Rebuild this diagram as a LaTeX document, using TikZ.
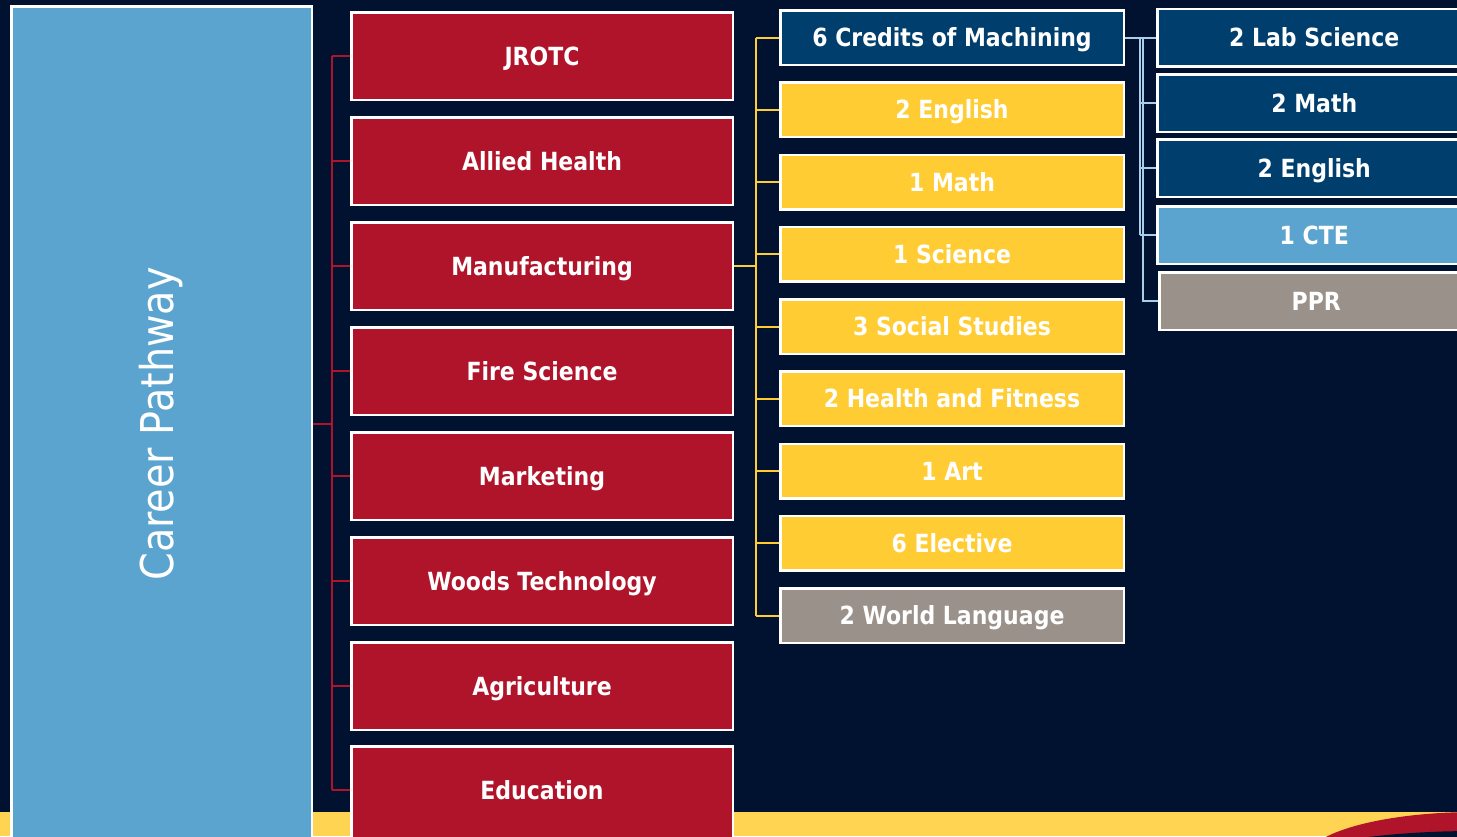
\documentclass[tikz,border=0pt]{standalone}
\usepackage{fontspec}
\usepackage{graphicx}
\newfontfamily\tah{DejaVu Sans}[FakeStretch=0.88]
\usetikzlibrary{backgrounds}
\definecolor{bg}{HTML}{00122F}
\definecolor{cpblue}{HTML}{5BA4D0}
\definecolor{cred}{HTML}{B0142A}
\definecolor{cyellow}{HTML}{FFCD33}
\definecolor{strip}{HTML}{FFD452}
\definecolor{dblue}{HTML}{003F6D}
\definecolor{cgrey}{HTML}{9A918A}
\definecolor{bline}{HTML}{A9CEEA}
\tikzset{
  box/.style={draw=white, line width=2.5pt, text=white, inner sep=0pt,
    font=\tah\bfseries\fontsize{25}{29}\selectfont, text height=18.2pt, text depth=0pt},
  redbox/.style={box, fill=cred, minimum width=381.5pt, minimum height=87.5pt},
  midbox/.style={box, minimum width=343.5pt, minimum height=54.5pt},
  sidebox/.style={box, minimum width=314pt, minimum height=57.5pt},
  cpbox/.style={draw=white, line width=2.5pt, fill=cpblue, text=white, inner sep=0pt,
    minimum width=300.5pt, minimum height=835.5pt, font=\tah\fontsize{45.2}{50}\selectfont},
  redline/.style={draw=cred, line width=2pt},
  yline/.style={draw=cyellow, line width=2pt},
  bluel/.style={draw=bline, line width=2pt},
}
\begin{document}
\begin{tikzpicture}[x=1pt,y=-1pt]
\useasboundingbox (0,0) rectangle (1457,836);
\clip (0,0) rectangle (1457,836);
\begin{scope}[on background layer]
  \fill[bg] (0,0) rectangle (1457,836);
  \fill[strip] (0,812) rectangle (1457,836);
  \fill[cred] (1475,860) ellipse [x radius=170pt, y radius=48pt];
  \fill[bg] (1475,868) ellipse [x radius=195pt, y radius=37pt];
\end{scope}

\node[cpbox] (cp) at (161.5,424) {\rotatebox{90}{Career Pathway}};

\node[redbox] (r1) at (542,56) {JROTC};
\node[redbox] (r2) at (542,161) {Allied Health};
\node[redbox] (r3) at (542,266) {Manufacturing};
\node[redbox] (r4) at (542,371) {Fire Science};
\node[redbox] (r5) at (542,476) {Marketing};
\node[redbox] (r6) at (542,581) {Woods Technology};
\node[redbox] (r7) at (542,686) {Agriculture};
\node[redbox, minimum height=107.5pt, text depth=20pt] (r8) at (542,800) {Education};

\node[midbox, fill=dblue] (m1) at (952,37.5) {6 Credits of Machining};
\node[midbox, fill=cyellow] (m2) at (952,109.75) {2 English};
\node[midbox, fill=cyellow] (m3) at (952,182) {1 Math};
\node[midbox, fill=cyellow] (m4) at (952,254.25) {1 Science};
\node[midbox, fill=cyellow] (m5) at (952,326.5) {3 Social Studies};
\node[midbox, fill=cyellow] (m6) at (952,398.75) {2 Health and Fitness};
\node[midbox, fill=cyellow] (m7) at (952,471) {1 Art};
\node[midbox, fill=cyellow] (m8) at (952,543.25) {6 Elective};
\node[midbox, fill=cgrey] (m9) at (952,615.5) {2 World Language};

\node[sidebox, fill=dblue] (s1) at (1314.25,37.5) {2 Lab Science};
\node[sidebox, fill=dblue] (s2) at (1314.25,103) {2 Math};
\node[sidebox, fill=dblue] (s3) at (1314.25,168) {2 English};
\node[sidebox, fill=cpblue] (s4) at (1314.25,235) {1 CTE};
\node[sidebox, fill=cgrey] (s5) at (1316.25,301) {PPR};

\coordinate (rbus) at (332,0);
\coordinate (ybus) at (756,0);
\coordinate (bbus) at (1140,0);
\coordinate (bbusb) at (1143,0);
\coordinate (r8t) at ([yshift=10pt]r8.west);

\begin{scope}[on background layer]
  \draw[redline] (cp.east) -- (cp.east -| rbus);
  \draw[redline] (rbus |- r1.west) -- (rbus |- r8t);
  \foreach \n in {r1,r2,r3,r4,r5,r6,r7}
    \draw[redline] (rbus |- \n.west) -- (\n.west);
  \draw[redline] (rbus |- r8t) -- (r8t);

  \draw[yline] (r3.east) -- (r3.east -| ybus);
  \draw[yline] (ybus |- m1.west) -- (ybus |- m9.west);
  \foreach \n in {m1,m2,m3,m4,m5,m6,m7,m8,m9}
    \draw[yline] (ybus |- \n.west) -- (\n.west);

  \draw[bluel] (m1.east) -- (s1.west);
  \draw[bluel] (bbus |- m1.east) -- (bbus |- s4.west);
  \foreach \n in {s2,s3,s4}
    \draw[bluel] (bbus |- \n.west) -- (\n.west);
  \draw[bluel] (bbusb |- m1.east) -- (bbusb |- s5.west) -- (s5.west);
\end{scope}
\end{tikzpicture}
\end{document}
